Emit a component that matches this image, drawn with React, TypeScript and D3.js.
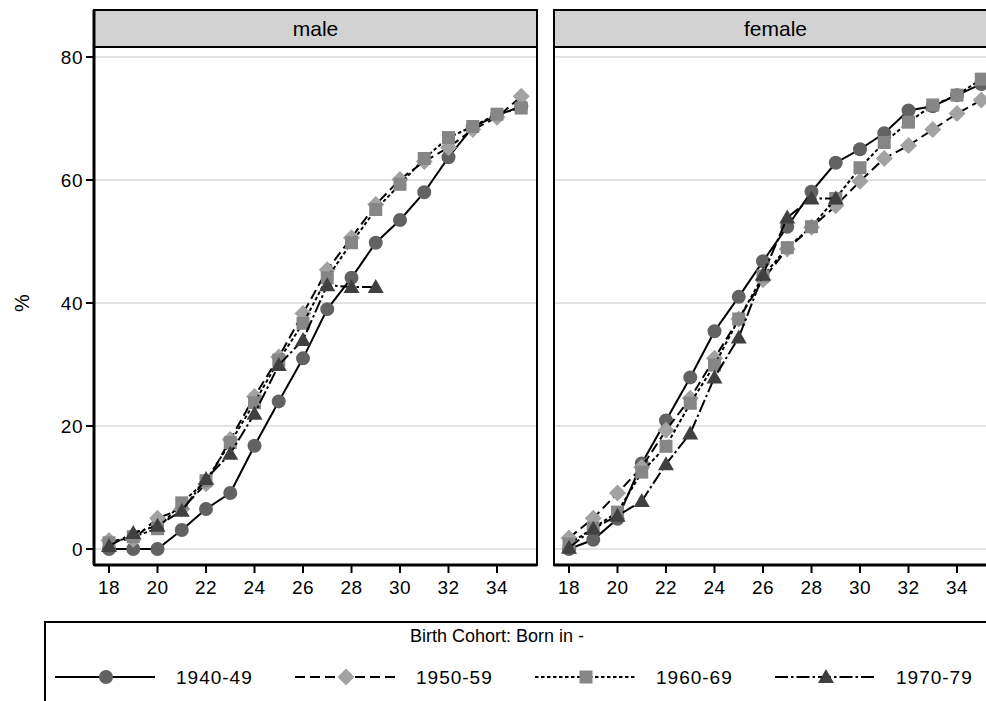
import React from 'react';
import * as d3 from 'd3';

const ages = [18, 19, 20, 21, 22, 23, 24, 25, 26, 27, 28, 29, 30, 31, 32, 33, 34, 35];
const ages1970 = [18, 19, 20, 21, 22, 23, 24, 25, 26, 27, 28, 29];
const xTicks = [18, 20, 22, 24, 26, 28, 30, 32, 34];
const yTicks = [0, 20, 40, 60, 80];
const panelNames = ['male', 'female'];
const cohortLabels = ['1940-49', '1950-59', '1960-69', '1970-79'];
const legendTitle = 'Birth Cohort: Born in -';
const yTitle = '%';

const male1940 = [0, 0, 0, 3.1, 6.5, 9.1, 16.8, 24.0, 31.0, 39.0, 44.1, 49.8, 53.5, 58.0, 63.7, 68.6, 70.5, 72.0];
const male1950 = [1.4, 1.6, 5.0, 6.5, 10.6, 17.8, 24.8, 31.2, 38.3, 45.4, 50.6, 56.0, 60.1, 63.0, 65.3, 68.2, 70.2, 73.6];
const male1960 = [1.0, 2.0, 3.3, 7.5, 11.1, 17.3, 23.8, 30.7, 36.7, 44.1, 49.8, 55.2, 59.3, 63.5, 66.9, 68.7, 70.7, 71.7];
const male1970 = [0.5, 2.6, 3.8, 6.2, 11.4, 15.5, 22.0, 29.9, 34.0, 42.9, 42.6, 42.6];

const female1940 = [0, 1.5, 4.9, 13.9, 20.9, 27.9, 35.4, 41.0, 46.8, 52.4, 58.1, 62.8, 65.0, 67.6, 71.3, 72.0, 73.8, 75.6];
const female1950 = [1.8, 5.0, 9.1, 13.3, 19.3, 24.5, 31.0, 37.4, 43.8, 48.8, 52.3, 55.8, 59.8, 63.5, 65.6, 68.2, 70.8, 73.0];
const female1960 = [0.8, 3.4, 6.0, 12.5, 16.7, 23.7, 29.9, 37.4, 44.4, 49.0, 52.4, 57.0, 62.0, 66.1, 69.4, 72.2, 73.8, 76.4];
const female1970 = [0.2, 3.3, 5.4, 7.8, 13.8, 18.8, 27.9, 34.4, 44.6, 53.9, 57.0, 57.0];

const FONT = '"Liberation Sans", Arial, sans-serif';

type Style = { dash: string; marker: string; fill: string };
const styles: Style[] = [
  { dash: 'none', marker: 'circle', fill: '#626262' },
  { dash: '10,5', marker: 'diamond', fill: '#a2a2a2' },
  { dash: '3.5,2.5', marker: 'square', fill: '#868686' },
  { dash: '13,3,2.5,3', marker: 'triangle', fill: '#404040' },
];

function markerPath(kind: string, cx: number, cy: number): string {
  const p = d3.path();
  if (kind === 'circle') {
    p.arc(cx, cy, 7, 0, Math.PI * 2);
  } else if (kind === 'diamond') {
    const s = 8.5;
    p.moveTo(cx, cy - s); p.lineTo(cx + s, cy); p.lineTo(cx, cy + s); p.lineTo(cx - s, cy); p.closePath();
  } else if (kind === 'square') {
    const s = 6.5;
    p.rect(cx - s, cy - s, 2 * s, 2 * s);
  } else {
    const s = 8;
    p.moveTo(cx, cy - s); p.lineTo(cx + s, cy + s * 0.75); p.lineTo(cx - s, cy + s * 0.75); p.closePath();
  }
  return p.toString();
}

const panelsData = [
  [
    { x: ages, y: male1940 },
    { x: ages, y: male1950 },
    { x: ages, y: male1960 },
    { x: ages1970, y: male1970 },
  ],
  [
    { x: ages, y: female1940 },
    { x: ages, y: female1950 },
    { x: ages, y: female1960 },
    { x: ages1970, y: female1970 },
  ],
];

export default function App() {
  const W = 986, H = 701;
  const panelLefts = [94, 554];
  const panelW = 443;
  const stripTop = 10, plotTop = 47, plotBottom = 565;
  const y = d3.scaleLinear().domain([0, 80]).range([549, 57]);

  const legendY = 677;
  const colW = 240;
  const legendX0 = 55;

  return (
    <svg width={W} height={H} style={{ position: 'absolute', left: 0, top: 0, background: '#fff' }} fontFamily={FONT}>
      <rect x={0} y={0} width={W} height={H} fill="#fff" />
      {panelNames.map((name, pi) => {
        const L = panelLefts[pi];
        const x = d3.scaleLinear().domain([18, 35]).range([L + 15, L + 15 + 17 * 24.25]);
        const line = d3.line<[number, number]>().x(d => x(d[0])).y(d => y(d[1]));
        return (
          <g key={name}>
            <rect x={L} y={stripTop} width={panelW} height={plotTop - stripTop} fill="#d2d2d2" stroke="#000" strokeWidth={2} />
            <text x={L + panelW / 2} y={36} textAnchor="middle" fontSize={21} fill="#000">{name}</text>
            <rect x={L} y={plotTop} width={panelW} height={plotBottom - plotTop} fill="#fff" stroke="#000" strokeWidth={2} />
            {yTicks.map(t => (
              <line key={t} x1={L + 1} x2={L + panelW - 1} y1={y(t)} y2={y(t)} stroke="#e2e2e2" strokeWidth={2} />
            ))}
            {panelsData[pi].map((s, si) => {
              const pts = s.x.map((a, i) => [a, s.y[i]] as [number, number]);
              return (
                <g key={si}>
                  <path d={line(pts) || ''} fill="none" stroke="#000" strokeWidth={2} strokeDasharray={styles[si].dash} />
                  {pts.map((p, i) => (
                    <path key={i} d={markerPath(styles[si].marker, x(p[0]), y(p[1]))} fill={styles[si].fill} stroke="none" />
                  ))}
                </g>
              );
            })}
            <line x1={L} x2={L + panelW} y1={plotBottom} y2={plotBottom} stroke="#000" strokeWidth={3} />
            <line x1={L} x2={L} y1={stripTop} y2={plotBottom} stroke="#000" strokeWidth={pi === 0 ? 3 : 2} />
            {xTicks.map(t => (
              <g key={t}>
                <line x1={x(t)} x2={x(t)} y1={plotBottom} y2={plotBottom + 8} stroke="#000" strokeWidth={2} />
                <text x={x(t)} y={594} textAnchor="middle" fontSize={19} letterSpacing={0.5} fill="#000">{t}</text>
              </g>
            ))}
            {pi === 0 && yTicks.map(t => (
              <g key={t}>
                <line x1={L - 8} x2={L} y1={y(t)} y2={y(t)} stroke="#000" strokeWidth={2} />
                <text x={L - 11} y={y(t) + 7} textAnchor="end" fontSize={19} letterSpacing={0.5} fill="#000">{t}</text>
              </g>
            ))}
          </g>
        );
      })}
      <text transform={`translate(29,${y(40)}) rotate(-90)`} textAnchor="middle" fontSize={20} fill="#000">{yTitle}</text>
      <rect x={45} y={622} width={1000} height={120} fill="#fff" stroke="#000" strokeWidth={2} />
      <text x={497} y={642} textAnchor="middle" fontSize={18} fill="#000">{legendTitle}</text>
      {cohortLabels.map((lab, i) => {
        const x0 = legendX0 + i * colW;
        return (
          <g key={lab}>
            <line x1={x0} x2={x0 + 100} y1={legendY} y2={legendY} stroke="#000" strokeWidth={2} strokeDasharray={styles[i].dash} />
            <path d={markerPath(styles[i].marker, x0 + 51, legendY)} fill={styles[i].fill} />
            <text x={x0 + 121} y={legendY + 7} fontSize={19} letterSpacing={1} fill="#000">{lab}</text>
          </g>
        );
      })}
    </svg>
  );
}
